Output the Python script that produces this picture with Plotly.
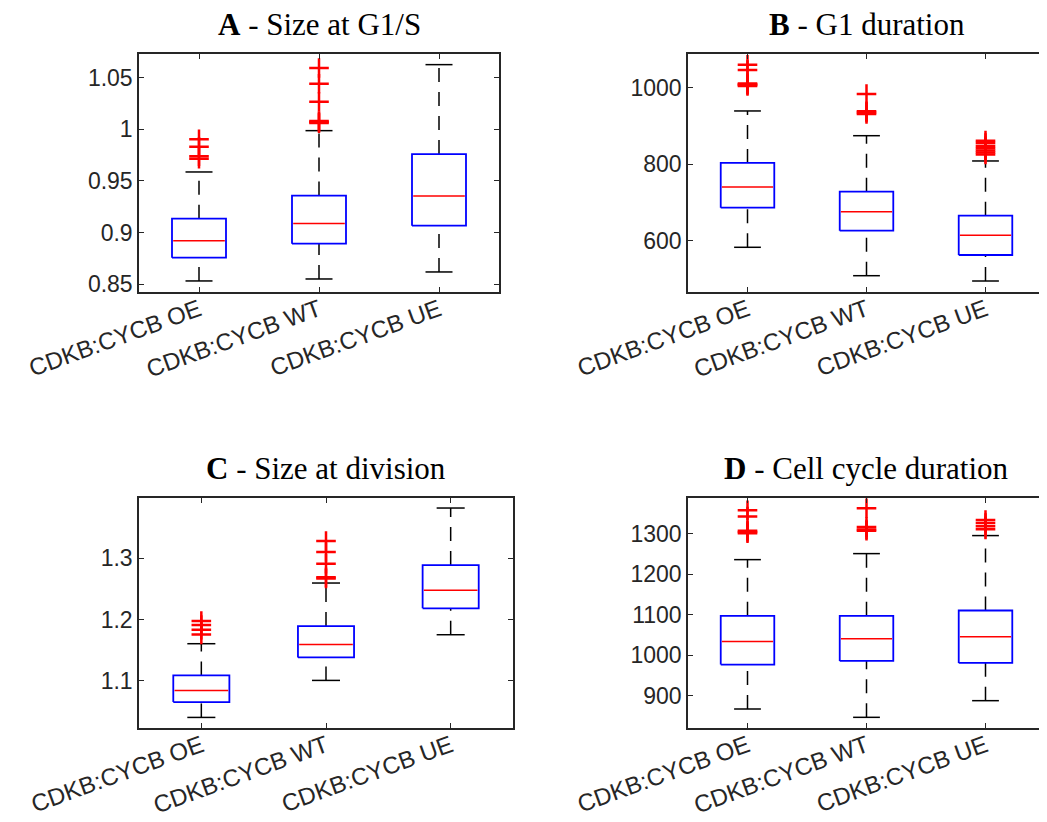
import plotly.graph_objects as go

categories = ["CDKB:CYCB OE", "CDKB:CYCB WT", "CDKB:CYCB UE"]

# Panel A - Size at G1/S
a_lower = [0.8532, 0.8551, 0.8619]
a_q1 = [0.8757, 0.8893, 0.9067]
a_med = [0.8922, 0.9087, 0.9354]
a_q3 = [0.9135, 0.9358, 0.9760]
a_upper = [0.9587, 0.9987, 1.0626]
a_out = [[0.9715, 0.9740, 0.9830, 0.9903],
         [1.0060, 1.0070, 1.0080, 1.0267, 1.0441, 1.0593],
         []]

# Panel B - G1 duration
b_lower = [582.7, 508.3, 494.4]
b_q1 = [686.5, 626.2, 562.5]
b_med = [740.7, 676.0, 614.0]
b_q3 = [803.6, 728.4, 665.5]
b_upper = [939.8, 875.0, 808.8]
b_out = [[1005, 1008, 1010, 1012, 1047, 1061],
         [932, 936, 939, 984],
         [826, 831, 836, 842, 848, 856, 862]]

# Panel C - Size at division
c_lower = [1.0400, 1.1005, 1.1752]
c_q1 = [1.0651, 1.1381, 1.2183]
c_med = [1.0842, 1.1594, 1.2477]
c_q3 = [1.1087, 1.1894, 1.2891]
c_upper = [1.1605, 1.2597, 1.3823]
c_out = [[1.1757, 1.1834, 1.1910, 1.1975],
         [1.2670, 1.2690, 1.2913, 1.3104, 1.3283],
         []]

# Panel D - Cell cycle duration
d_lower = [867.0, 846.4, 887.6]
d_q1 = [977.0, 986.0, 981.0]
d_med = [1033.8, 1041.0, 1046.0]
d_q3 = [1097.5, 1097.5, 1110.7]
d_upper = [1236.5, 1251.4, 1296.0]
d_out = [[1302, 1305, 1308, 1343, 1358.5],
         [1308, 1311, 1317, 1363.5],
         [1311.5, 1319, 1327, 1334.6]]

panels = [
    dict(title="<b>A</b> - Size at G1/S", lower=a_lower, q1=a_q1, med=a_med, q3=a_q3, upper=a_upper, out=a_out,
         yrange=[0.8425, 1.0729], ticks=[0.85, 0.9, 0.95, 1, 1.05], ticktext=["0.85", "0.9", "0.95", "1", "1.05"],
         xdom=[131/1047, 491/1047], ydom=[1-284/822, 1-46/822]),
    dict(title="<b>B</b> - G1 duration", lower=b_lower, q1=b_q1, med=b_med, q3=b_q3, upper=b_upper, out=b_out,
         yrange=[465.6, 1089], ticks=[600, 800, 1000], ticktext=["600", "800", "1000"],
         xdom=[680/1047, 1037/1047], ydom=[1-284/822, 1-46/822]),
    dict(title="<b>C</b> - Size at division", lower=c_lower, q1=c_q1, med=c_med, q3=c_q3, upper=c_upper, out=c_out,
         yrange=[1.0227, 1.3987], ticks=[1.1, 1.2, 1.3], ticktext=["1.1", "1.2", "1.3"],
         xdom=[131/1047, 505/1047], ydom=[1-720/822, 1-490/822]),
    dict(title="<b>D</b> - Cell cycle duration", lower=d_lower, q1=d_q1, med=d_med, q3=d_q3, upper=d_upper, out=d_out,
         yrange=[820, 1389], ticks=[900, 1000, 1100, 1200, 1300], ticktext=["900", "1000", "1100", "1200", "1300"],
         xdom=[680/1047, 1037/1047], ydom=[1-720/822, 1-490/822]),
]

BOX_W = 0.45
CAP_W = 0.225
AX_COLOR = "#262626"
YTICK_FONT = dict(family="Liberation Sans, Arial, sans-serif", size=23, color=AX_COLOR)
XTICK_FONT = dict(family="Liberation Sans, Arial, sans-serif", size=24, color=AX_COLOR)

fig = go.Figure()
layout = dict(width=1047, height=822, margin=dict(l=0, r=0, t=0, b=0),
              paper_bgcolor="white", plot_bgcolor="white", showlegend=False)
annotations = []

for k, p in enumerate(panels):
    n = "" if k == 0 else str(k + 1)
    xa, ya = "x" + n, "y" + n
    pos = list(range(1, len(categories) + 1))

    # whiskers (dashed)
    wx, wy = [], []
    for i, xp in enumerate(pos):
        wx += [xp, xp, None, xp, xp, None]
        wy += [p["lower"][i], p["q1"][i], None, p["q3"][i], p["upper"][i], None]
    fig.add_trace(go.Scatter(x=wx, y=wy, mode="lines", xaxis=xa, yaxis=ya,
                             line=dict(color="black", width=1.5, dash="14px,10px"), hoverinfo="skip"))
    # caps
    cx, cy = [], []
    for i, xp in enumerate(pos):
        for v in (p["lower"][i], p["upper"][i]):
            cx += [xp - CAP_W / 2, xp + CAP_W / 2, None]
            cy += [v, v, None]
    fig.add_trace(go.Scatter(x=cx, y=cy, mode="lines", xaxis=xa, yaxis=ya,
                             line=dict(color="black", width=1.5), hoverinfo="skip"))
    # boxes (q1..q3 rectangles)
    bx, by = [], []
    for i, xp in enumerate(pos):
        l, r = xp - BOX_W / 2, xp + BOX_W / 2
        bx += [l, r, r, l, l, None]
        by += [p["q1"][i], p["q1"][i], p["q3"][i], p["q3"][i], p["q1"][i], None]
    fig.add_trace(go.Scatter(x=bx, y=by, mode="lines", xaxis=xa, yaxis=ya,
                             line=dict(color="#0000ff", width=1.8), hoverinfo="skip"))
    # medians
    mx, my = [], []
    for i, xp in enumerate(pos):
        mx += [xp - BOX_W / 2 + 0.01, xp + BOX_W / 2 - 0.01, None]
        my += [p["med"][i], p["med"][i], None]
    fig.add_trace(go.Scatter(x=mx, y=my, mode="lines", xaxis=xa, yaxis=ya,
                             line=dict(color="#ff0000", width=1.5), hoverinfo="skip"))
    # outliers
    ox, oy = [], []
    for i, xp in enumerate(pos):
        ox += [xp] * len(p["out"][i])
        oy += p["out"][i]
    fig.add_trace(go.Scatter(x=ox, y=oy, mode="markers", xaxis=xa, yaxis=ya,
                             marker=dict(symbol="cross-thin-open", size=14, color="#ff0000",
                                         line=dict(color="#ff0000", width=2.5)),
                             hoverinfo="skip"))

    common = dict(showline=True, linecolor=AX_COLOR, linewidth=1.5, mirror="ticks", ticks="inside",
                  ticklen=5, tickcolor=AX_COLOR, tickwidth=1.2, showgrid=False, zeroline=False,
                  automargin=False)
    layout["xaxis" + n] = dict(domain=p["xdom"], anchor=ya, range=[0.5, 3.5], tickvals=pos,
                               ticktext=categories, tickangle=-20,
                               tickfont=XTICK_FONT, ticklabelstandoff=-7, **common)
    layout["yaxis" + n] = dict(domain=p["ydom"], anchor=xa, range=p["yrange"], tickvals=p["ticks"],
                               ticktext=p["ticktext"], tickfont=YTICK_FONT, **common)
    annotations.append(dict(text=p["title"], xref=xa + " domain", yref=ya + " domain", x=0.5, y=1,
                            xanchor="center", yanchor="bottom", yshift=10, showarrow=False,
                            font=dict(family="Liberation Serif, Times New Roman, serif", size=31, color="black")))

layout["annotations"] = annotations
fig.update_layout(**layout)
fig.write_html("out.html")
